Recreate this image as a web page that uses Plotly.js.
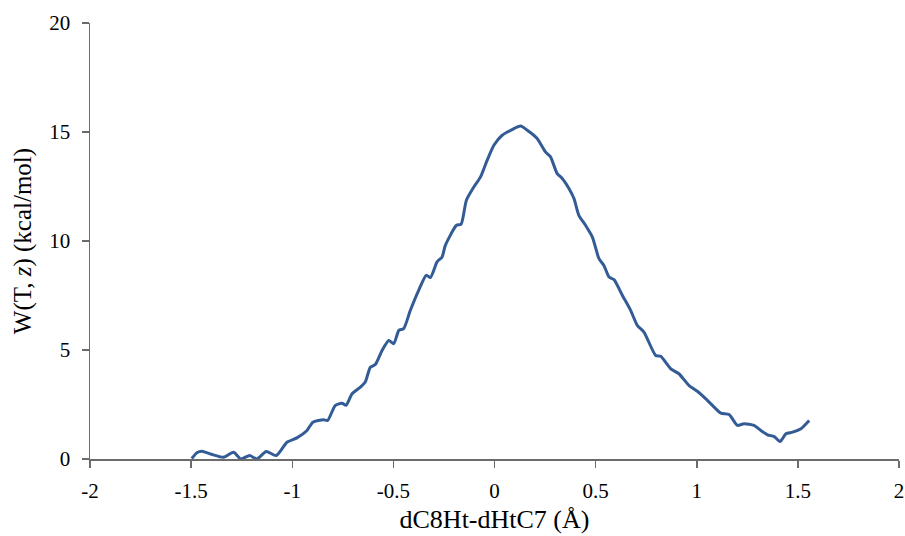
<!DOCTYPE html>
<html>
<head>
<meta charset="utf-8">
<script src="https://cdn.plot.ly/plotly-3.0.1.min.js"></script>
<style>html,body{margin:0;padding:0;background:#fff;}#chart{width:905px;height:536px;}</style>
</head>
<body>
<div id="chart"></div>
<script>
const xVals = [-1.497, -1.47, -1.447, -1.40, -1.34, -1.29, -1.254, -1.211, -1.175, -1.129, -1.079, -1.026, -0.977, -0.927, -0.898, -0.845, -0.825, -0.787, -0.754, -0.734, -0.704, -0.663, -0.639, -0.614, -0.589, -0.556, -0.523, -0.498, -0.473, -0.449, -0.416, -0.375, -0.337, -0.317, -0.284, -0.259, -0.243, -0.188, -0.165, -0.139, -0.102, -0.069, -0.036, -0.003, 0.038, 0.087, 0.129, 0.162, 0.211, 0.252, 0.277, 0.310, 0.335, 0.368, 0.393, 0.417, 0.450, 0.484, 0.516, 0.541, 0.566, 0.591, 0.632, 0.673, 0.706, 0.739, 0.797, 0.822, 0.871, 0.912, 0.962, 1.003, 1.045, 1.086, 1.119, 1.160, 1.201, 1.234, 1.283, 1.317, 1.350, 1.383, 1.412, 1.441, 1.474, 1.515, 1.556];
const yVals = [0.02, 0.30, 0.36, 0.22, 0.08, 0.31, 0.00, 0.16, 0.00, 0.34, 0.16, 0.77, 0.97, 1.31, 1.69, 1.80, 1.77, 2.46, 2.56, 2.46, 2.99, 3.30, 3.53, 4.21, 4.34, 4.98, 5.44, 5.29, 5.90, 5.98, 6.82, 7.74, 8.43, 8.32, 9.04, 9.27, 9.80, 10.72, 10.77, 11.87, 12.48, 12.94, 13.71, 14.39, 14.85, 15.11, 15.27, 15.08, 14.70, 14.09, 13.86, 13.09, 12.87, 12.41, 11.95, 11.18, 10.72, 10.18, 9.20, 8.88, 8.35, 8.23, 7.51, 6.82, 6.13, 5.82, 4.75, 4.71, 4.14, 3.91, 3.37, 3.11, 2.76, 2.38, 2.10, 2.04, 1.54, 1.62, 1.54, 1.31, 1.11, 1.03, 0.80, 1.16, 1.23, 1.39, 1.77];
const xTicks = [-2, -1.5, -1, -0.5, 0, 0.5, 1, 1.5, 2];
const xTickText = ['-2', '-1.5', '-1', '-0.5', '0', '0.5', '1', '1.5', '2'];
const yTicks = [0, 5, 10, 15, 20];
const xTitle = 'dC8Ht-dHtC7 (Å)';
const yTitle = 'W(T, <i>z</i>) (kcal/mol)';

const font = 'Liberation Serif, Times New Roman, serif';
Plotly.newPlot('chart', [{
  x: xVals, y: yVals, type: 'scatter', mode: 'lines',
  line: {color: '#335C96', width: 3, shape: 'spline', smoothing: 0.6},
  hoverinfo: 'skip'
}], {
  width: 905, height: 536,
  margin: {l: 90, r: 6, t: 23, b: 77},
  paper_bgcolor: '#fff', plot_bgcolor: '#fff',
  showlegend: false,
  font: {family: font, color: '#000', size: 21},
  xaxis: {
    range: [-2, 2], tickvals: xTicks, ticktext: xTickText,
    showgrid: false, zeroline: false, showline: true, linecolor: '#6b6b6b', linewidth: 1.5,
    ticks: 'outside', ticklen: 7, tickwidth: 1.5, tickcolor: '#6b6b6b',
    ticklabelstandoff: 5,
    tickfont: {family: font, size: 21, color: '#000'},
    title: {text: xTitle, font: {family: font, size: 26, color: '#000'}, standoff: 8}
  },
  yaxis: {
    range: [0, 20], tickvals: yTicks,
    showgrid: false, zeroline: false, showline: true, linecolor: '#6b6b6b', linewidth: 1.5,
    ticks: 'outside', ticklen: 7, tickwidth: 1.5, tickcolor: '#6b6b6b',
    ticklabelstandoff: 7,
    tickfont: {family: font, size: 21, color: '#000'},
    title: {text: yTitle, font: {family: font, size: 25, color: '#000'}, standoff: 10}
  }
}, {displayModeBar: false, staticPlot: true});
</script>
</body>
</html>
